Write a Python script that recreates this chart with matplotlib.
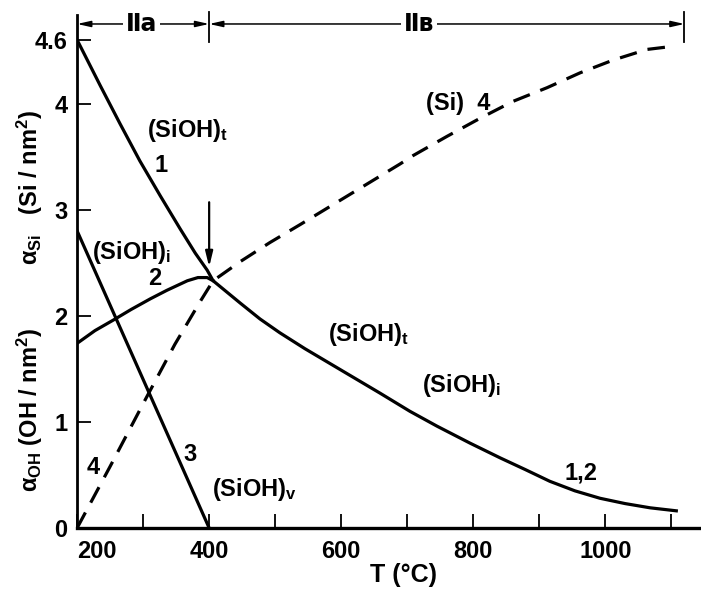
import numpy as np
import matplotlib.pyplot as plt
import matplotlib.transforms as mtransforms

plt.rcParams['font.family'] = ['Liberation Sans', 'DejaVu Sans']
plt.rcParams['font.weight'] = 'bold'
plt.rcParams['mathtext.fontset'] = 'custom'
plt.rcParams['mathtext.rm'] = 'Liberation Sans'
plt.rcParams['mathtext.bf'] = 'Liberation Sans:bold'
plt.rcParams['mathtext.it'] = 'Liberation Sans:italic'

# curve 1, (SiOH)t, up to the merge point
T_t = [200, 235, 265, 295, 326, 356, 379, 397, 406]
a_t = [4.60, 4.17, 3.81, 3.46, 3.13, 2.82, 2.59, 2.43, 2.33]

# curve 2, (SiOH)i, up to the merge point
T_i = [200, 227, 255, 282, 311, 336, 367, 383, 397, 406]
a_i = [1.74, 1.86, 1.96, 2.06, 2.16, 2.24, 2.33, 2.36, 2.36, 2.33]

# curves 1,2 together after the merge
T_12 = [406, 447, 477, 507, 545, 583, 621, 659, 704, 745, 795, 841,
        879, 916, 954, 992, 1030, 1068, 1110]
a_12 = [2.33, 2.12, 1.97, 1.84, 1.69, 1.55, 1.41, 1.27, 1.10, 0.96, 0.80,
        0.66, 0.55, 0.44, 0.35, 0.28, 0.23, 0.19, 0.16]

# curve 3, (SiOH)v
T_v = [200, 400]
a_v = [2.8, 0.0]

# curve 4, (Si), dashed
T_si = [200, 250, 305, 348, 386, 406, 447, 492, 538, 591, 644, 689, 709,
        760, 810, 860, 912, 962, 1012, 1063, 1103]
a_si = [0.0, 0.58, 1.23, 1.73, 2.13, 2.33, 2.51, 2.69, 2.86, 3.06, 3.26,
        3.43, 3.51, 3.69, 3.86, 4.02, 4.15, 4.29, 4.41, 4.51, 4.54]

x_ticks = [200, 300, 400, 500, 600, 700, 800, 900, 1000, 1100]
x_ticklabels = ['200', '', '400', '', '600', '', '800', '', '1000', '']
y_ticks = [0, 1, 2, 3, 4, 4.6]
y_ticklabels = ['0', '1', '2', '3', '4', '4.6']

region_edges = [200, 400, 1120]
region_labels = ['\u2161a', '\u2161\u0432']

fs = 17
fig = plt.figure(figsize=(7.01, 5.89), dpi=100)
ax = fig.add_axes([0.11, 0.1036, 0.89, 0.871])

lw = 2.3
ax.plot(T_t, a_t, color='black', lw=lw, solid_capstyle='butt')
ax.plot(T_i, a_i, color='black', lw=lw)
ax.plot(T_12, a_12, color='black', lw=lw, solid_capstyle='butt')
ax.plot(T_v, a_v, color='black', lw=lw)
ax.plot(T_si, a_si, color='black', lw=lw, dashes=(5.5, 3.5))

ax.set_xlim(200, 1145)
ax.set_ylim(0, 4.835)
for s in ['top', 'right']:
    ax.spines[s].set_visible(False)
ax.spines['left'].set_linewidth(2.0)
ax.spines['bottom'].set_linewidth(2.4)

ax.set_xticks(x_ticks)
ax.set_xticklabels(x_ticklabels)
ax.set_yticks(y_ticks)
ax.set_yticklabels(y_ticklabels)
ax.tick_params(direction='in', length=10, width=1.3, labelsize=fs, pad=7)
ax.tick_params(axis='x', pad=9)
ax.get_xticklabels()[0].set_horizontalalignment('left')

# curve labels
tkw = dict(fontsize=fs, fontweight='bold', ha='center', va='center')
ax.text(367, 3.75, r'(SiOH)$_{\mathbf{t}}$', **tkw)
ax.text(327, 3.42, '1', **tkw)
ax.text(282, 2.60, r'(SiOH)$_{\mathbf{i}}$', **tkw)
ax.text(318, 2.35, '2', **tkw)
ax.text(641, 1.82, r'(SiOH)$_{\mathbf{t}}$', **tkw)
ax.text(783, 1.34, r'(SiOH)$_{\mathbf{i}}$', **tkw)
ax.text(963, 0.52, '1,2', **tkw)
ax.text(777, 4.0, '(Si)  4', **tkw)
ax.text(224, 0.57, '4', **tkw)
ax.text(371, 0.69, '3', **tkw)
ax.text(468, 0.36, r'(SiOH)$_{\mathbf{v}}$', **tkw)

# arrow pointing at the merge point
ax.annotate('', xy=(400, 2.46), xytext=(400, 3.07),
            arrowprops=dict(arrowstyle='-|>,head_length=0.9,head_width=0.22',
                            color='black', lw=1.6, shrinkA=0, shrinkB=0))

# region markers on top
yr = 4.75
for k in range(len(region_edges) - 1):
    x0, x1 = region_edges[k], region_edges[k + 1]
    ax.annotate('', xy=(x0, yr), xytext=(x1, yr), annotation_clip=False,
                arrowprops=dict(arrowstyle='<|-|>,head_length=0.8,head_width=0.18',
                                color='black', lw=1.1, shrinkA=0, shrinkB=0))
    xm = 298 if k == 0 else 718
    ax.text(xm, yr, region_labels[k], fontsize=fs, fontweight='bold',
            family=['DejaVu Sans'], ha='center', va='center',
            bbox=dict(facecolor='white', edgecolor='none', pad=2))
for xe in region_edges[1:]:
    ax.plot([xe, xe], [4.58, 4.86], color='black', lw=1.3, clip_on=False)

# y axis label in two parts
trans = mtransforms.blended_transform_factory(ax.transAxes, ax.transData)
ax.text(-0.075, 3.21,
        r'$\mathrm{\alpha_{Si}}$   (Si / nm$^{\mathbf{2}}$)',
        transform=trans, rotation=90, ha='center', va='center', fontsize=fs,
        fontweight='bold')
ax.text(-0.075, 1.11,
        r'$\mathrm{\alpha_{OH}}$ (OH / nm$^{\mathbf{2}}$)',
        transform=trans, rotation=90, ha='center', va='center', fontsize=fs,
        fontweight='bold')

fig.text(0.576, 0.024, 'T (\u00b0C)', ha='center', va='center', fontsize=18,
         fontweight='bold')

fig.savefig('out.png', dpi=100)
